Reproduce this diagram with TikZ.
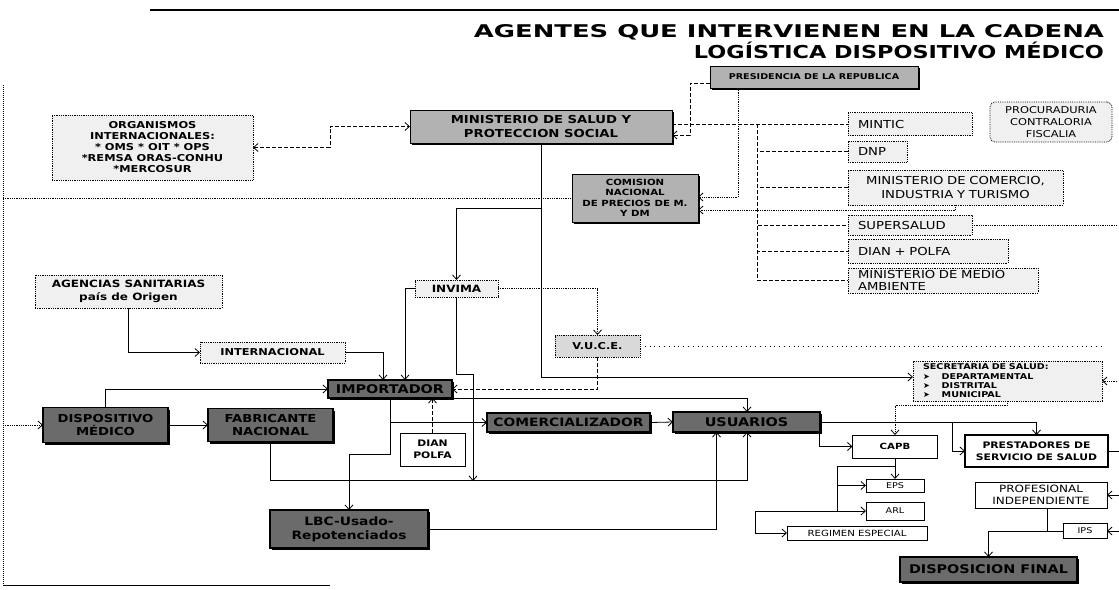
\documentclass[tikz,border=0pt]{standalone}
\usepackage{fontspec}
\usepackage{graphicx}
\setmainfont{DejaVu Sans}[FakeStretch=1.2]
\newfontfamily\titlefont{DejaVu Sans}
\newfontfamily\symfont{DejaVu Sans}
\usetikzlibrary{arrows.meta,positioning,shadows}

\newcommand{\fsz}[2]{\fontsize{#1}{#2}\selectfont}

\begin{document}
\begin{tikzpicture}[x=1pt,y=-1pt,line width=0.8pt,>={Straight Barb[length=4.5pt,width=8pt]},every node/.style={outer sep=0pt,inner sep=1pt,align=center}]
\tikzstyle{greybox}=[draw,line width=1pt,fill=black!30,drop shadow={opacity=1,fill=black,shadow xshift=1.5pt,shadow yshift=-1.5pt}]
\tikzstyle{darkbox}=[draw,line width=1.2pt,fill=black!58,drop shadow={opacity=1,fill=black,shadow xshift=1.5pt,shadow yshift=-2pt}]
\tikzstyle{lightbox}=[draw,densely dotted,fill=black!6]
\tikzstyle{listbox}=[lightbox,align=left,inner xsep=10pt,font=\fsz{11}{14}]
\tikzstyle{plainbox}=[draw,line width=1pt,fill=white]
\tikzstyle{dashline}=[dash pattern=on 4pt off 2pt]
\tikzstyle{dotline}=[densely dotted]

\useasboundingbox (0,0) rectangle (1119,589);

% frame
\draw[line width=2pt] (150,10) -- (1119,10);
\draw[dotline,line width=1pt] (3,85) -- (3,585);
\draw (3,585) -- (330,585);

% title
\node (title1) [anchor=base east,font=\titlefont\bfseries] at (1105,37) {\resizebox{630pt}{13pt}{AGENTES QUE INTERVIENEN EN LA CADENA}};
\node (title2) [anchor=base east,font=\titlefont\bfseries] at (1105,58) {\resizebox{410pt}{16.5pt}{LOGÍSTICA DISPOSITIVO MÉDICO}};

% state level
\node (presid) [greybox,minimum width=208pt,minimum height=22pt,font=\bfseries\fsz{8}{9}] at (814,77) {PRESIDENCIA DE LA REPUBLICA};
\node (minist) [greybox,minimum width=262pt,minimum height=33pt,font=\bfseries\fsz{11}{14}] at (541,126.5) {MINISTERIO DE SALUD Y\\PROTECCION SOCIAL};
\node (organ) [lightbox,minimum width=201pt,minimum height=65pt,font=\bfseries\fsz{9.5}{11}] at (152.5,147.5) {ORGANISMOS\\INTERNACIONALES:\\* OMS * OIT * OPS\\*REMSA ORAS-CONHU\\*MERCOSUR};
\node (comis) [greybox,minimum width=126pt,minimum height=48pt,font=\bfseries\fsz{8.5}{10.5}] at (635,198) {COMISION\\NACIONAL\\DE PRECIOS DE M.\\Y DM};
\node (procur) [lightbox,rounded corners=5pt,minimum width=122pt,minimum height=40pt,font=\fsz{9.5}{12}] at (1051,122) {PROCURADURIA\\CONTRALORIA\\FISCALIA};

\node (mintic) [listbox,text width=104pt,minimum height=23pt] at (910,124) {MINTIC};
\node (dnp) [listbox,text width=39pt,minimum height=21pt] at (877.5,151.5) {DNP};
\node (comerc) [listbox,text width=195pt,minimum height=35pt,align=center] at (955.5,187.5) {MINISTERIO DE COMERCIO,\\INDUSTRIA Y TURISMO};
\node (supers) [listbox,text width=104pt,minimum height=20pt] at (910,225) {SUPERSALUD};
\node (dian) [listbox,text width=140pt,minimum height=24pt] at (928,251) {DIAN + POLFA};
\node (medio) [listbox,text width=170pt,minimum height=25pt,font=\fsz{11}{12}] at (943,280.5) {MINISTERIO DE MEDIO\\AMBIENTE};

% supply chain
\node (invima) [lightbox,minimum width=83pt,minimum height=17pt,font=\bfseries\fsz{10}{12}] at (456.5,288.5) {INVIMA};
\node (agenc) [lightbox,minimum width=187pt,minimum height=33pt,font=\bfseries\fsz{10}{13}] at (128.5,291.5) {AGENCIAS SANITARIAS\\país de Origen};
\node (internac) [lightbox,minimum width=145pt,minimum height=21pt,font=\bfseries\fsz{9.5}{11}] at (272.5,352.5) {INTERNACIONAL};
\node (vuce) [lightbox,fill=black!15,minimum width=85pt,minimum height=22pt,font=\bfseries\fsz{9.5}{11}] at (597.5,346) {V.U.C.E.};
\node (import) [darkbox,minimum width=124pt,minimum height=18pt,font=\bfseries\fsz{12}{13}] at (390,389) {IMPORTADOR};
\node (disp) [darkbox,minimum width=125pt,minimum height=35pt,font=\bfseries\fsz{11}{13}] at (105.5,425) {DISPOSITIVO\\MÉDICO};
\node (fabric) [darkbox,minimum width=125pt,minimum height=33pt,font=\bfseries\fsz{11}{13}] at (270.5,425) {FABRICANTE\\NACIONAL};
\node (dianp) [plainbox,minimum width=65pt,minimum height=33pt,font=\bfseries\fsz{9}{12}] at (432.5,449.5) {DIAN\\POLFA};
\node (comerz) [darkbox,minimum width=163pt,minimum height=19pt,font=\bfseries\fsz{11.5}{13}] at (568.5,422.5) {COMERCIALIZADOR};
\node (usuar) [darkbox,minimum width=147pt,minimum height=20pt,font=\bfseries\fsz{12}{13}] at (746.5,422) {USUARIOS};
\node (lbc) [darkbox,minimum width=158pt,minimum height=38pt,font=\bfseries\fsz{11.5}{14}] at (349,529) {LBC-Usado-\\Repotenciados};

% health system
\node (secret) [lightbox,text width=169pt,align=left,inner xsep=10pt,inner ysep=2pt,minimum height=40pt,font=\bfseries\fsz{8}{9.3}] at (1007.5,381) {SECRETARIA DE SALUD:\\{\symfont ➤}\hspace{1.5em}DEPARTAMENTAL\\{\symfont ➤}\hspace{1.5em}DISTRITAL\\{\symfont ➤}\hspace{1.5em}MUNICIPAL};
\node (capb) [plainbox,line width=0.8pt,minimum width=85pt,minimum height=23pt,font=\bfseries\fsz{8.5}{10}] at (895,446.5) {CAPB};
\node (prest) [plainbox,line width=1.4pt,minimum width=143pt,minimum height=32pt,font=\bfseries\fsz{9}{12}] at (1036.5,451) {PRESTADORES DE\\SERVICIO DE SALUD};
\node (profes) [plainbox,minimum width=132pt,minimum height=26pt,font=\fsz{10}{11.5}] at (1041,495) {PROFESIONAL\\INDEPENDIENTE};
\node (ips) [plainbox,minimum width=44pt,minimum height=15pt,font=\fsz{8}{9}] at (1085,531) {IPS};
\node (eps) [plainbox,minimum width=58pt,minimum height=13pt,font=\fsz{8}{9}] at (895,485.5) {EPS};
\node (arl) [plainbox,minimum width=58pt,minimum height=18pt,font=\fsz{8}{9}] at (895,511) {ARL};
\node (regim) [plainbox,minimum width=140pt,minimum height=14pt,font=\fsz{8.5}{9}] at (857,533) {REGIMEN ESPECIAL};
\node (dispf) [darkbox,minimum width=177pt,minimum height=25pt,font=\bfseries\fsz{12}{13}] at (988.5,569.5) {DISPOSICION FINAL};

% free ends on the frame
\coordinate (lframe) at (3,198);
\coordinate (lframe2) at (3,425);
\coordinate (redge1) at (1117,225);
\coordinate (redge2) at (1117,381);
\coordinate (redge3) at (1105,346);
\coordinate (redge4) at (1119,451);
\coordinate (redge5) at (1119,495);
\coordinate (redge6) at (1119,531);
\coordinate (bus) at (757,124);
\coordinate (mj) at (541,208);
\coordinate (uj) at (952,422);
\coordinate (cj) at (837,466);

% connectors, state level
\draw[dashline,<->] (organ.east) -- ++(77,0) |- (minist.west);
\draw[dotline] (lframe) -- (comis.west);
\draw[dashline,->] ([yshift=-6pt]presid.west) -- ++(-20,0) |- ([yshift=-8.5pt]minist.east);
\draw[dotline,->] ([xshift=-76pt]presid.south) |- ([yshift=1pt]comis.east);
\draw[dashline] ([yshift=2.5pt]minist.east) -- (mintic.west);
\foreach \n in {dnp,comerc,supers,dian,medio}
  \draw[dashline] (bus) |- (\n.west);
\draw[dotline,->] (comerc.south) |- ([yshift=-12pt]comis.east);
\draw[dotline] (supers.east) -- (redge1);
\draw[dotline,->] (redge2) -- (secret.east);
\draw[->] (minist.south) |- ([yshift=4pt]secret.west);
\draw[->] (mj) -| (invima.north);
\draw[dotline,->] (invima.east) -| (vuce.north);

% connectors, supply chain
\draw[->] (invima.west) -| ([xshift=15pt]import.north);
\draw[->] (agenc.south) |- (internac.west);
\draw[->] (internac.east) -| ([xshift=-7pt]import.north);
\draw[->] (invima.south) -- ++(0,77) -| (473,481);
\draw[->] (fabric.south) -- ++(0,39) -| ([xshift=0.5pt]usuar.south);
\draw[->] (lbc.east) -| ([xshift=-30pt]usuar.south);
\draw[->] (disp.north) |- (import.west);
\draw[dotline,->] (lframe2) -- (disp.west);
\draw[->] (disp.east) -- (fabric.west);
\draw[dashline,->] (dianp.north) -- (dianp.north |- import.south);
\draw[->] (import.south) |- (comerz.west);
\draw[->] (import.south) -- ++(0,56) -| (lbc.north);
\draw[->] (import.south east) -| ([xshift=0.5pt]usuar.north);
\draw[dashline,->] (vuce.south) |- (import.east);
\draw[loosely dotted] (vuce.east) -- (redge3);
\draw[->] (comerz.east) -- (usuar.west);

% connectors, health system
\draw[dotline,->] (secret.south) -- ++(0,4) -| (capb.north);
\draw[->] (usuar.east) -| (prest.north);
\draw[->] (uj) |- (prest.west);
\draw[->] ([xshift=-1pt]usuar.south east) |- (capb.west);
\draw[->] (capb.south) -- (eps.north);
\draw ([yshift=-8pt]capb.south) -- (cj) -- (cj |- arl.west);
\draw[->] (cj |- eps.west) -- (eps.west);
\draw[->] (cj |- arl.west) -- (arl.west);
\draw[->] (cj |- arl.west) -- ++(-82,0) |- (regim.west);
\draw[->] ([xshift=6pt]profes.south) -- ++(0,23) -| (dispf.north);
\draw (ips.west) -- ++(-16,0);
\draw (prest.east) -- (redge4);
\draw[->] (redge5) -- (profes.east);
\draw[->] (redge6) -- (ips.east);
\end{tikzpicture}
\end{document}
